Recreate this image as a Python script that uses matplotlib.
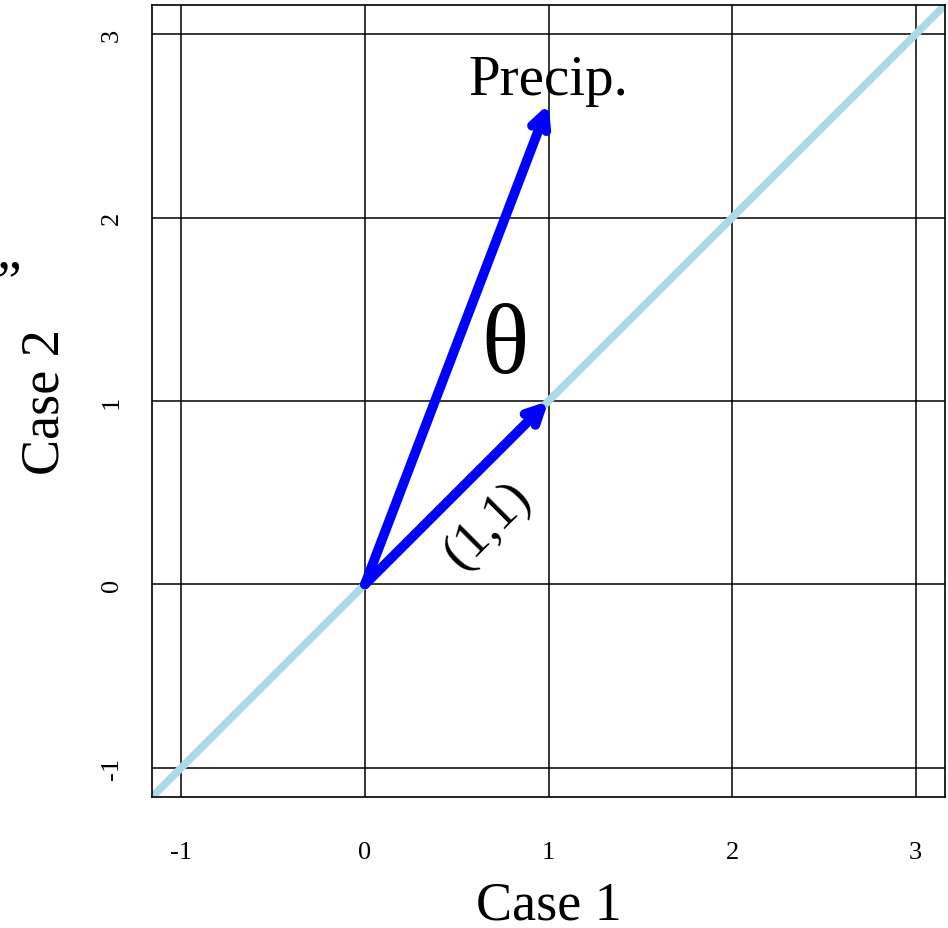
import matplotlib
matplotlib.use("Agg")
import matplotlib.pyplot as plt
import numpy as np

ticks = [-1, 0, 1, 2, 3]
lims = [-1.16, 3.16]
precip = (1.0, 2.62)
unit = (1.0, 1.0)
origin = (0.0, 0.0)

plt.rcParams['font.family'] = ['Liberation Serif', 'DejaVu Serif']
fig = plt.figure(figsize=(9.48, 9.29), dpi=100)
ax = fig.add_axes([152/948, 1-798/929, (945-152)/948, (798-6)/929])
ax.set_xlim(lims)
ax.set_ylim(lims)
for t in ticks:
    ax.axvline(t, color='black', lw=1.1, zorder=1)
    ax.axhline(t, color='black', lw=1.1, zorder=1)
ax.plot(lims, lims, color='lightblue', lw=5.5, zorder=2, solid_capstyle='butt')
for vec in (precip, unit):
    ax.annotate('', xy=vec, xytext=origin,
                arrowprops=dict(arrowstyle='->,head_length=1.1,head_width=0.55',
                                color='blue', lw=7, capstyle='round',
                                joinstyle='round', shrinkA=0, shrinkB=0),
                zorder=3)
ax.text(precip[0], 2.75, 'Precip.', ha='center', va='center', fontsize=41)
ax.text(0.765, 1.29, 'θ', ha='center', va='center', fontsize=71)
ax.text(0.67, 0.32, '(1,1)', ha='center', va='center', fontsize=38, rotation=45,
        rotation_mode='anchor')
ax.set_xticks(ticks)
ax.set_yticks(ticks)
ax.set_xticklabels([str(t) for t in ticks], fontsize=19)
ax.set_yticklabels([str(t) for t in ticks], fontsize=19, rotation=90, va='center')
ax.tick_params(axis='x', length=0, pad=32)
ax.tick_params(axis='y', length=0, pad=21)
for s in ax.spines.values():
    s.set_linewidth(1.2)
ax.set_xlabel('Case 1', fontsize=39, labelpad=12)
ax.set_ylabel('Case 2', fontsize=39, labelpad=22)
fig.text(9/948, 1-285/929, '”', fontsize=40, ha='center', va='center')
fig.savefig('out.png', dpi=100)
